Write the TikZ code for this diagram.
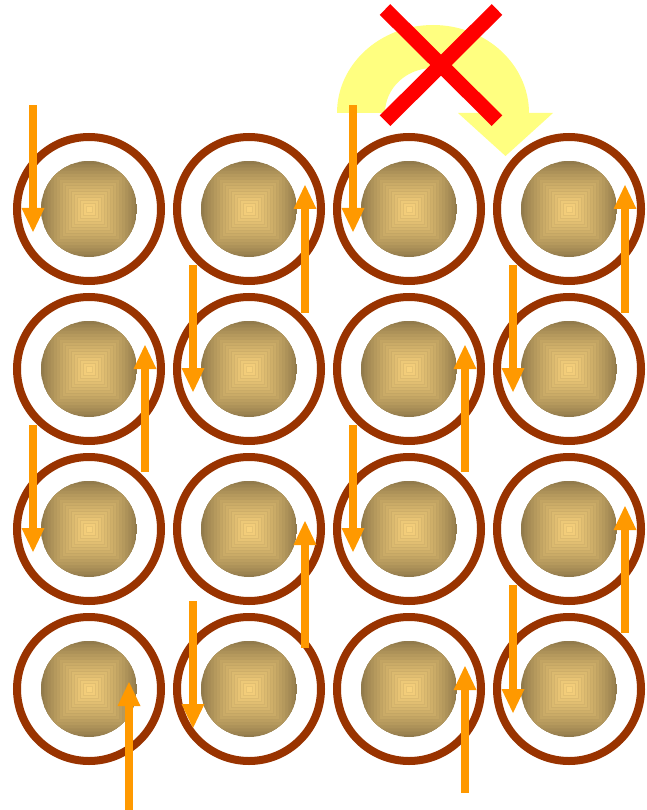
\documentclass[tikz,border=0pt]{standalone}
\definecolor{ringc}{HTML}{993300}
\definecolor{arrc}{HTML}{FF9900}
\definecolor{curvc}{HTML}{FFFF80}
\definecolor{xred}{HTML}{FF0000}
\definecolor{diskdark}{RGB}{138,116,72}
\definecolor{disklight}{RGB}{248,210,125}
\newcommand\arrD[3]{%
  \fill[arrstyle] (#1-4,#2) rectangle (#1+4,#3-23);
  \fill[arrstyle] (#1-11.5,#3-24) -- (#1+11.5,#3-24) -- (#1,#3) -- cycle;}
\newcommand\arrU[3]{%
  \fill[arrstyle] (#1-4,#2) rectangle (#1+4,#3+23);
  \fill[arrstyle] (#1-11.5,#3+24) -- (#1+11.5,#3+24) -- (#1,#3) -- cycle;}
\begin{document}
\begin{tikzpicture}[x=1pt,y=-1pt,
  ringstyle/.style={circle,draw=ringc,line width=8pt,minimum size=144pt,inner sep=0pt},
  arrstyle/.style={fill=arrc},
  crossline/.style={draw=xred,line width=15pt}]
\useasboundingbox (0,0) rectangle (646,810);
\fill[white] (0,0) rectangle (646,810);

% discs and rings
\foreach \c in {0,...,3}{\foreach \r in {0,...,3}{
  \pgfmathsetmacro\cx{89+160*\c}
  \pgfmathsetmacro\cy{209+160*\r}
  \begin{scope}
    \clip (\cx,\cy) circle[radius=48];
    \foreach \i in {0,...,15}{
      \pgfmathsetmacro\hs{48-3*\i}
      \pgfmathtruncatemacro\pc{100*((\i+0.5)/15.5)^0.75}
      \pgfmathtruncatemacro\pd{\pc*0.85}
      \fill[disklight!\pc!diskdark, draw=disklight!\pd!diskdark, line width=0.6pt]
        (\cx-\hs,\cy-\hs) rectangle (\cx+\hs,\cy+\hs);
    }
  \end{scope}
  \node[ringstyle] (ring\c\r) at (\cx,\cy) {};
}}

% yellow curved arrow
\fill[curvc] (337,113) arc[start angle=180,end angle=360,x radius=96,y radius=88]
  -- (553,113) -- (505.5,156) -- (458,113) -- (481,113)
  arc[start angle=0,end angle=-180,x radius=48,y radius=45] -- cycle;

% orange arrows
\arrD{33}{105}{232}
\arrD{353}{105}{232}
\arrD{193}{265}{392}
\arrD{513}{265}{392}
\arrD{33}{425}{552}
\arrD{353}{425}{552}
\arrD{193}{601}{728}
\arrD{513}{585}{713}
\arrU{305}{313}{185}
\arrU{625}{313}{185}
\arrU{145}{472}{345}
\arrU{465}{472}{345}
\arrU{305}{648}{521}
\arrU{625}{633}{506}
\arrU{129}{810}{682}
\arrU{465}{793}{666}

% red cross
\coordinate (xa) at (385,9.5);
\coordinate (xb) at (497,120.7);
\coordinate (xc) at (497,9.5);
\coordinate (xd) at (385,120.7);
\draw[crossline] (xa) -- (xb);
\draw[crossline] (xc) -- (xd);
\end{tikzpicture}
\end{document}
